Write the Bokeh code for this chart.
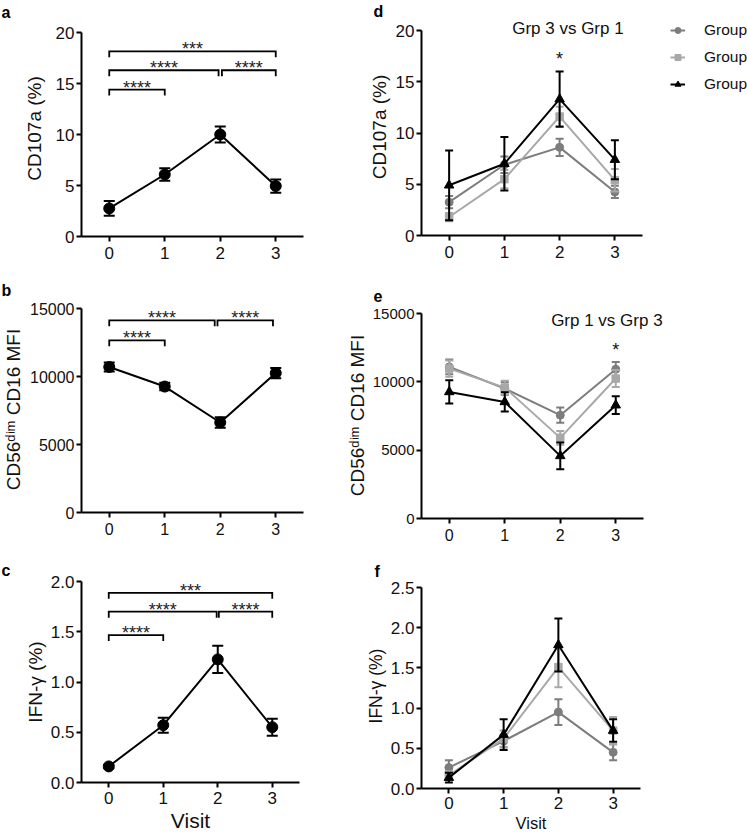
from bokeh.plotting import figure
from bokeh.models import Range1d, FixedTicker, PrintfTickFormatter, Label, Legend, LegendItem, Title
from bokeh.layouts import row, column
from bokeh.embed import file_html
from bokeh.resources import INLINE

FONT = "Liberation Sans"

# ---------------- data ----------------
visits = [0, 1, 2, 3]

# a-c: all participants (mean and error)
cd107a_mean = [2.75, 6.08, 10.0, 4.95]
cd107a_err = [0.72, 0.62, 0.78, 0.65]
cd16_mean = [10700, 9260, 6620, 10250]
cd16_err = [330, 280, 390, 370]
ifng_mean = [0.16, 0.57, 1.225, 0.55]
ifng_err = [0.015, 0.075, 0.135, 0.085]

# d-f: per group
group_names = ["Group 1", "Group 2", "Group 3"]
g1_cd107a = [3.25, 6.9, 8.6, 4.25]
g1_cd107a_err = [0.6, 0.8, 0.85, 0.6]
g2_cd107a = [1.8, 5.5, 11.6, 5.4]
g2_cd107a_err = [0.4, 0.9, 0.95, 1.1]
g3_cd107a = [4.9, 7.0, 13.3, 7.4]
g3_cd107a_err = [3.4, 2.6, 2.7, 1.9]

g1_cd16 = [11090, 9510, 7560, 10920]
g1_cd16_err = [540, 480, 560, 540]
g2_cd16 = [10970, 9580, 5900, 10240]
g2_cd16_err = [600, 500, 500, 620]
g3_cd16 = [9260, 8530, 4580, 8290]
g3_cd16_err = [850, 700, 980, 650]

g1_ifng = [0.26, 0.59, 0.95, 0.45]
g1_ifng_err = [0.09, 0.08, 0.16, 0.1]
g2_ifng = [0.165, 0.62, 1.51, 0.72]
g2_ifng_err = [0.05, 0.1, 0.25, 0.17]
g3_ifng = [0.135, 0.67, 1.785, 0.72]
g3_ifng_err = [0.06, 0.19, 0.33, 0.14]

# significance brackets: (from visit, to visit, level, stars)
sig_a = [(0, 3, 18.15, "***"), (0, 1.97, 16.3, "****"), (2.03, 3, 16.3, "****"), (0, 1, 14.4, "****")]
sig_b = [(0, 1.9, 14130, "****"), (1.95, 2.95, 14130, "****"), (0, 1, 12660, "****")]
sig_c = [(0, 3, 1.887, "***"), (0, 1.98, 1.70, "****"), (2.02, 3, 1.70, "****"), (0, 1, 1.467, "****")]

yticks_a = [0, 5, 10, 15, 20]
yticks_b = [0, 5000, 10000, 15000]
yticks_c = [0.0, 0.5, 1.0, 1.5, 2.0]
yticks_f = [0.0, 0.5, 1.0, 1.5, 2.0, 2.5]

G_COLORS = ["#7d7d7d", "#a8a8a8", "#000000"]
G_MARKERS = ["circle", "square", "triangle"]
G_SIZES = [8, 7.5, 9.5]

LEFT = 81  # common left border so that aligned columns keep their frames in place


def make_fig(cell_w, cell_h, left, axis_w, ext_right, top, axis_top, axis_bottom, ymax, yticks,
             ylabel, ylabel_size="19px", xlabel=None, xlabel_size="19px", yfmt=None,
             tick_size="17px", ylabel_standoff=5, xlabel_standoff=2, xtick_standoff=5,
             ytick_size=None, ytick_standoff=2):
    axis_h = axis_bottom - axis_top
    frame_w = axis_w + ext_right
    frame_h = axis_bottom - top
    y_end = ymax + (axis_top - top) * ymax / axis_h
    x_end = 3.5 + ext_right * 4.0 / axis_w
    p = figure(frame_width=frame_w, frame_height=frame_h,
               x_range=Range1d(-0.5, x_end), y_range=Range1d(0, y_end),
               min_border_left=left, min_border_right=cell_w - left - frame_w,
               min_border_top=top, min_border_bottom=cell_h - axis_bottom,
               output_backend="svg", toolbar_location=None)
    p.outline_line_color = None
    p.xgrid.visible = False
    p.ygrid.visible = False
    p.background_fill_color = "white"
    p.border_fill_color = "white"
    for ax in (p.xaxis[0], p.yaxis[0]):
        ax.axis_line_width = 2
        ax.axis_line_color = "black"
        ax.major_tick_line_width = 2
        ax.major_tick_line_color = "black"
        ax.major_tick_out = 5
        ax.major_tick_in = 0
        ax.minor_tick_line_color = None
        ax.major_label_text_font = FONT
        ax.major_label_text_font_size = tick_size
        ax.major_label_text_color = "#111111"
        ax.axis_label_text_font = FONT
        ax.axis_label_text_font_style = "normal"
        ax.axis_label_text_color = "#111111"
    if ytick_size:
        p.yaxis.major_label_text_font_size = ytick_size
    p.xaxis.bounds = (-0.5, 3.5)
    p.yaxis.bounds = (0, ymax)
    p.xaxis.ticker = FixedTicker(ticks=visits)
    p.yaxis.ticker = FixedTicker(ticks=yticks)
    if yfmt:
        p.yaxis.formatter = PrintfTickFormatter(format=yfmt)
    p.yaxis.major_label_standoff = ytick_standoff
    p.xaxis.major_label_standoff = xtick_standoff
    p.yaxis.axis_label = ylabel
    p.yaxis.axis_label_text_font_size = ylabel_size
    p.yaxis.axis_label_standoff = ylabel_standoff
    if xlabel:
        p.xaxis.axis_label = xlabel
        p.xaxis.axis_label_text_font_size = xlabel_size
        p.xaxis.axis_label_standoff = xlabel_standoff
    return p


def draw_series(p, m, e, color, marker, size, cap):
    lo = [mi - ei for mi, ei in zip(m, e)]
    hi = [mi + ei for mi, ei in zip(m, e)]
    p.segment(x0=visits, y0=lo, x1=visits, y1=hi, line_color=color, line_width=2)
    p.scatter(x=visits, y=hi, marker="dash", size=cap, line_color=color, line_width=2)
    p.scatter(x=visits, y=lo, marker="dash", size=cap, line_color=color, line_width=2)
    ln = p.line(x=visits, y=m, line_color=color, line_width=2)
    mk = p.scatter(x=visits, y=m, marker=marker, size=size, fill_color=color, line_color=color)
    return ln, mk


def draw_brackets(p, brackets, drop):
    xs, ys = [], []
    for x0, x1, lvl, stars in brackets:
        xs.append([x0, x0, x1, x1])
        ys.append([lvl - drop, lvl, lvl, lvl - drop])
        p.add_layout(Label(x=(x0 + x1) / 2, y=lvl, y_offset=2, text=stars, text_align="center",
                           text_baseline="alphabetic", text_font=FONT, text_font_size="18px",
                           text_color="#222222"))
    p.multi_line(xs=xs, ys=ys, line_color="black", line_width=1.8, line_join="miter")


def letter(p, t, xo, standoff):
    p.add_layout(Title(text=t, align="left", offset=xo, standoff=standoff, vertical_align="bottom",
                       text_font=FONT, text_font_style="bold", text_font_size="16px",
                       text_color="black"), "above")


def note(p, t, x, y, size="17px"):
    p.add_layout(Label(x=x, y=y, text=t, text_align="center", text_baseline="alphabetic",
                       text_font=FONT, text_font_size=size, text_color="#111111"))


# ---------------- left column ----------------
pa = make_fig(340, 270, LEFT, 222, 0, 20, 32, 236, 20, yticks_a, "CD107a (%)", ylabel_standoff=8)
letter(pa, "a", -80, 0)
draw_brackets(pa, sig_a, 6 * 20 / 204)
draw_series(pa, cd107a_mean, cd107a_err, "black", "circle", 11, 11)

pb = make_fig(340, 285, LEFT, 222, 0, 36, 38, 242, 15000, yticks_b, "CD56ᵈⁱᵐ CD16 MFI",
              tick_size="16px", ylabel_standoff=3)
letter(pb, "b", -80, 16)
draw_brackets(pb, sig_b, 6 * 15000 / 204)
draw_series(pb, cd16_mean, cd16_err, "black", "circle", 11, 11)

pc = make_fig(336, 283, LEFT, 218, 0, 26, 26, 227, 2.0, yticks_c, "IFN-γ (%)", xlabel="Visit",
              xlabel_size="21px", yfmt="%.1f", xlabel_standoff=2, xtick_standoff=4,
              ylabel_standoff=2)
letter(pc, "c", -80, 6)
draw_brackets(pc, sig_c, 6 * 2.0 / 201)
draw_series(pc, ifng_mean, ifng_err, "black", "circle", 11, 11)

# ---------------- right column ----------------
pd = make_fig(407, 270, LEFT, 221, 105, 18, 30, 235, 20, yticks_a, "CD107a (%)", ylabel_standoff=3)
letter(pd, "d", -48, -2)
items = []
for name, m, e, col, mkr, sz in zip(group_names, [g1_cd107a, g2_cd107a, g3_cd107a],
                                    [g1_cd107a_err, g2_cd107a_err, g3_cd107a_err],
                                    G_COLORS, G_MARKERS, G_SIZES):
    ln, mk = draw_series(pd, m, e, col, mkr, sz, 8)
    items.append(LegendItem(label=name, renderers=[ln, mk]))
legend = Legend(items=items, location=(249, 140), glyph_width=15, glyph_height=22,
                label_height=22, spacing=5, label_standoff=19, padding=0, margin=0,
                border_line_color=None, background_fill_alpha=0,
                label_text_font=FONT, label_text_font_size="15.5px", label_text_color="#111111")
pd.add_layout(legend, "center")
note(pd, "Grp 3 vs Grp 1", 2.15, 20.2)
note(pd, "*", 2, 17.2, size="18px")

pe = make_fig(407, 285, LEFT, 222, 104, 42, 43, 248, 15000, yticks_b, "CD56ᵈⁱᵐ CD16 MFI",
              tick_size="16px", ytick_size="15px", ytick_standoff=2, ylabel_standoff=2)
letter(pe, "e", -48, 22)
for m, e, col, mkr, sz in zip([g1_cd16, g2_cd16, g3_cd16], [g1_cd16_err, g2_cd16_err, g3_cd16_err],
                              G_COLORS, G_MARKERS, G_SIZES):
    draw_series(pe, m, e, col, mkr, sz, 8)
note(pe, "Grp 1 vs Grp 3", 2.84, 14520)
note(pe, "*", 3, 12300, size="18px")

pf = make_fig(407, 283, LEFT, 219, 0, 28, 32, 233, 2.5, yticks_f, "IFN-γ (%)", ylabel_size="17.5px",
              xlabel="Visit", xlabel_size="16.5px", yfmt="%.1f", xlabel_standoff=2, xtick_standoff=3,
              ylabel_standoff=2)
letter(pf, "f", -47, 8)
for m, e, col, mkr, sz in zip([g1_ifng, g2_ifng, g3_ifng], [g1_ifng_err, g2_ifng_err, g3_ifng_err],
                              G_COLORS, G_MARKERS, G_SIZES):
    draw_series(pf, m, e, col, mkr, sz, 8)

layout = row(column(pa, pb, pc), column(pd, pe, pf))
open("out.html", "w").write(file_html(layout, INLINE))
